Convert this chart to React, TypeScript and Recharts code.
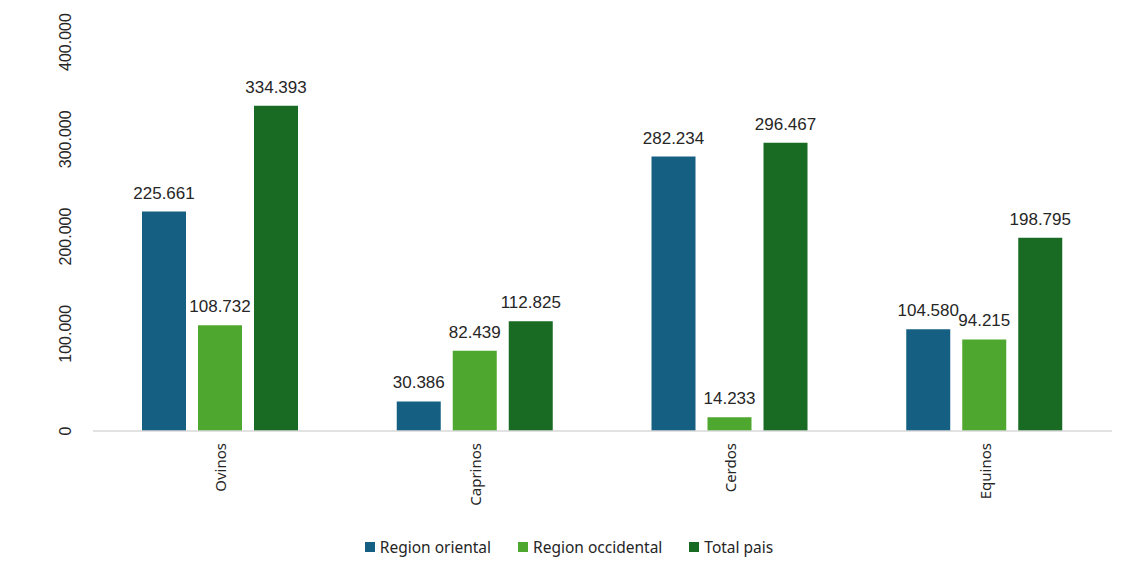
import React from 'react';
import { BarChart, Bar, XAxis, YAxis, Legend, LabelList } from 'recharts';

const categories = ['Ovinos', 'Caprinos', 'Cerdos', 'Equinos'];
const regionOriental = [225661, 30386, 282234, 104580];
const regionOccidental = [108732, 82439, 14233, 94215];
const totalPais = [334393, 112825, 296467, 198795];
const yTicks = [0, 100000, 200000, 300000, 400000];
const seriesNames = ['Region oriental', 'Region occidental', 'Total pais'];
const seriesColors = ['#156082', '#4EA72E', '#196B24'];

const data = categories.map((c, i) => ({
  name: c,
  oriental: regionOriental[i],
  occidental: regionOccidental[i],
  total: totalPais[i],
}));

const fmt = (v: number) => String(v).replace(/\B(?=(\d{3})+(?!\d))/g, '.');

const YTick = (props: any) => {
  const { y, payload } = props;
  return (
    <text
      x={65}
      y={y}
      transform={`rotate(-90, 65, ${y})`}
      textAnchor="middle"
      dominantBaseline="central"
      fill="#262626"
      fontSize={16}
      fontFamily="Liberation Sans, Arial, sans-serif"
    >
      {fmt(payload.value)}
    </text>
  );
};

const XTick = (props: any) => {
  const { x, payload } = props;
  const ty = 443;
  return (
    <text
      x={x}
      y={ty}
      transform={`rotate(-90, ${x}, ${ty})`}
      textAnchor="end"
      dominantBaseline="central"
      fill="#262626"
      fontSize={15}
      fontFamily="Noto Sans, sans-serif"
    >
      {payload.value}
    </text>
  );
};

const labelStyle = {
  fill: '#262626',
  fontSize: 17,
  fontFamily: 'Liberation Sans, Arial, sans-serif',
};

const labelFormatter = (v: any) => fmt(Number(v));

const LegendContent = () => (
  <div
    style={{
      height: 40,
      display: 'flex',
      justifyContent: 'center',
      alignItems: 'flex-start',
      paddingTop: 1,
      boxSizing: 'border-box',
      fontFamily: 'Noto Sans, sans-serif',
      fontSize: 15.5,
      color: '#262626',
      paddingLeft: 26,
    }}
  >
    {seriesNames.map((n, i) => (
      <div key={n} style={{ display: 'flex', alignItems: 'center', marginRight: i < 2 ? 27 : 0 }}>
        <span style={{ width: 10, height: 10, background: seriesColors[i], display: 'inline-block', marginRight: 5 }} />
        <span>{n}</span>
      </div>
    ))}
  </div>
);

export default function App() {
  return (
    <div style={{ position: 'absolute', left: 0, top: 0, background: '#fff' }}>
      <BarChart
        width={1136}
        height={575}
        data={data}
        margin={{ top: 42, right: 24, left: 0, bottom: 0 }}
        barSize={44}
        barGap={12}
      >
        <XAxis
          dataKey="name"
          tick={<XTick />}
          tickLine={false}
          axisLine={{ stroke: '#d9d9d9', strokeWidth: 1.5 }}
          height={104}
          interval={0}
        />
        <YAxis
          domain={[0, 400000]}
          ticks={yTicks}
          tick={<YTick />}
          axisLine={false}
          tickLine={false}
          width={93}
        />
        <Legend verticalAlign="bottom" height={40} content={<LegendContent />} />
        <Bar dataKey="oriental" name={seriesNames[0]} fill={seriesColors[0]} isAnimationActive={false}>
          <LabelList dataKey="oriental" position="top" offset={13} formatter={labelFormatter} style={labelStyle} />
        </Bar>
        <Bar dataKey="occidental" name={seriesNames[1]} fill={seriesColors[1]} isAnimationActive={false}>
          <LabelList dataKey="occidental" position="top" offset={13} formatter={labelFormatter} style={labelStyle} />
        </Bar>
        <Bar dataKey="total" name={seriesNames[2]} fill={seriesColors[2]} isAnimationActive={false}>
          <LabelList dataKey="total" position="top" offset={13} formatter={labelFormatter} style={labelStyle} />
        </Bar>
      </BarChart>
    </div>
  );
}
